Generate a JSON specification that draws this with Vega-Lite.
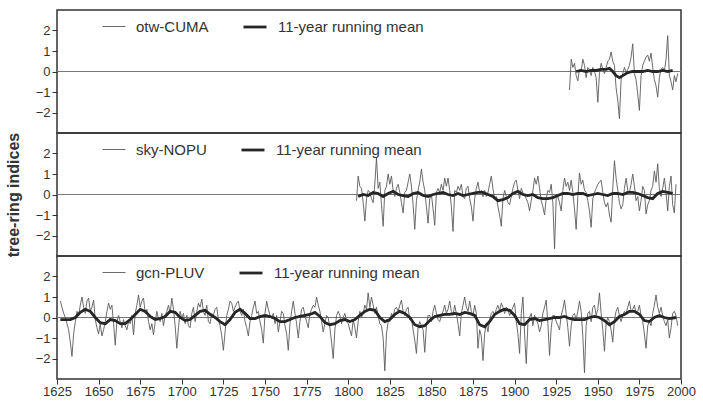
{
"$schema": "https://vega.github.io/schema/vega-lite/v6.json",
"background": "white",
"padding": {"left": 4, "top": 9, "right": 5, "bottom": 0},
"spacing": 0,
"bounds": "flush",
"config": {
  "font": "Liberation Sans",
  "concat": {"spacing": 0},
  "view": {"stroke": "#333", "strokeWidth": 1.5},
  "axis": {"labelFont": "Liberation Sans", "labelFontSize": 13, "labelColor": "#333", "tickColor": "#333", "tickSize": 5, "grid": false, "domain": false, "titleFont": "Liberation Sans", "titleFontSize": 16, "titleFontWeight": "bold", "titleColor": "#333"},
  "legend": {"orient": "none", "legendX": 45, "legendY": 4, "direction": "horizontal", "symbolType": "stroke", "symbolSize": 529, "labelFont": "Liberation Sans", "labelFontSize": 15, "labelColor": "#333", "labelOffset": 10, "columnPadding": 28, "padding": 0}
},
"resolve": {"scale": {"color": "independent", "strokeWidth": "independent"}, "legend": {"color": "independent", "strokeWidth": "independent"}},
"datasets": {
"p1": [
{"s":"r","x":1933,"y":-0.9},{"s":"r","x":1934,"y":0.6},{"s":"r","x":1935,"y":0.2},{"s":"r","x":1936,"y":0.4},{"s":"r","x":1937,"y":-0.2},{"s":"r","x":1938,"y":-0.45},{"s":"r","x":1939,"y":0.1},{"s":"r","x":1940,"y":0.0},{"s":"r","x":1941,"y":0.6},{"s":"r","x":1942,"y":0.3},{"s":"r","x":1943,"y":-0.3},{"s":"r","x":1944,"y":0.2},{"s":"r","x":1945,"y":0.1},{"s":"r","x":1946,"y":-0.2},{"s":"r","x":1947,"y":0.2},{"s":"r","x":1948,"y":0.0},{"s":"r","x":1949,"y":-0.3},{"s":"r","x":1950,"y":-1.5},{"s":"r","x":1951,"y":-0.1},{"s":"r","x":1952,"y":0.4},{"s":"r","x":1953,"y":0.1},{"s":"r","x":1954,"y":-0.1},{"s":"r","x":1955,"y":0.2},{"s":"r","x":1956,"y":0.5},{"s":"r","x":1957,"y":0.6},{"s":"r","x":1958,"y":0.95},{"s":"r","x":1959,"y":0.5},{"s":"r","x":1960,"y":0.3},{"s":"r","x":1961,"y":-0.8},{"s":"r","x":1962,"y":-1.4},{"s":"r","x":1963,"y":-2.3},{"s":"r","x":1964,"y":-0.4},{"s":"r","x":1965,"y":-0.1},{"s":"r","x":1966,"y":0.2},{"s":"r","x":1967,"y":-0.05},{"s":"r","x":1968,"y":0.1},{"s":"r","x":1969,"y":0.3},{"s":"r","x":1970,"y":0.7},{"s":"r","x":1971,"y":1.35},{"s":"r","x":1972,"y":-0.1},{"s":"r","x":1973,"y":-0.4},{"s":"r","x":1974,"y":-1.1},{"s":"r","x":1975,"y":-1.9},{"s":"r","x":1976,"y":-0.2},{"s":"r","x":1977,"y":0.3},{"s":"r","x":1978,"y":0.5},{"s":"r","x":1979,"y":0.7},{"s":"r","x":1980,"y":0.8},{"s":"r","x":1981,"y":0.5},{"s":"r","x":1982,"y":0.9},{"s":"r","x":1983,"y":0.2},{"s":"r","x":1984,"y":-0.4},{"s":"r","x":1985,"y":-0.7},{"s":"r","x":1986,"y":-1.25},{"s":"r","x":1987,"y":-0.3},{"s":"r","x":1988,"y":0.1},{"s":"r","x":1989,"y":0.2},{"s":"r","x":1990,"y":0.0},{"s":"r","x":1991,"y":0.6},{"s":"r","x":1992,"y":1.75},{"s":"r","x":1993,"y":-0.2},{"s":"r","x":1994,"y":-0.5},{"s":"r","x":1995,"y":-0.9},{"s":"r","x":1996,"y":-0.2},{"s":"r","x":1997,"y":-0.5},{"s":"r","x":1998,"y":-0.1},
{"s":"m","x":1937,"y":0.0},{"s":"m","x":1940,"y":0.05},{"s":"m","x":1943,"y":0.0},{"s":"m","x":1946,"y":0.05},{"s":"m","x":1949,"y":0.05},{"s":"m","x":1952,"y":0.1},{"s":"m","x":1955,"y":0.1},{"s":"m","x":1957,"y":0.15},{"s":"m","x":1959,"y":0.0},{"s":"m","x":1961,"y":-0.2},{"s":"m","x":1963,"y":-0.3},{"s":"m","x":1965,"y":-0.2},{"s":"m","x":1968,"y":-0.05},{"s":"m","x":1971,"y":0.0},{"s":"m","x":1974,"y":0.0},{"s":"m","x":1977,"y":0.0},{"s":"m","x":1980,"y":0.05},{"s":"m","x":1983,"y":0.0},{"s":"m","x":1986,"y":0.0},{"s":"m","x":1989,"y":0.05},{"s":"m","x":1992,"y":0.0},{"s":"m","x":1995,"y":0.05}
],
"p2": [
{"s":"r","x":1805,"y":-0.3},{"s":"r","x":1806,"y":0.9},{"s":"r","x":1807,"y":0.4},{"s":"r","x":1808,"y":0.3},{"s":"r","x":1809,"y":-0.4},{"s":"r","x":1810,"y":-1.3},{"s":"r","x":1811,"y":-0.2},{"s":"r","x":1812,"y":0.2},{"s":"r","x":1813,"y":0.1},{"s":"r","x":1814,"y":-0.2},{"s":"r","x":1815,"y":-0.4},{"s":"r","x":1816,"y":0.5},{"s":"r","x":1817,"y":1.8},{"s":"r","x":1818,"y":0.3},{"s":"r","x":1819,"y":0.6},{"s":"r","x":1820,"y":-0.5},{"s":"r","x":1821,"y":-1.55},{"s":"r","x":1822,"y":0.2},{"s":"r","x":1823,"y":0.4},{"s":"r","x":1824,"y":1.0},{"s":"r","x":1825,"y":0.5},{"s":"r","x":1826,"y":0.9},{"s":"r","x":1827,"y":0.2},{"s":"r","x":1828,"y":-0.1},{"s":"r","x":1829,"y":0.3},{"s":"r","x":1830,"y":0.5},{"s":"r","x":1831,"y":0.1},{"s":"r","x":1832,"y":-0.4},{"s":"r","x":1833,"y":-0.9},{"s":"r","x":1834,"y":0.1},{"s":"r","x":1835,"y":0.2},{"s":"r","x":1836,"y":0.6},{"s":"r","x":1837,"y":1.0},{"s":"r","x":1838,"y":0.4},{"s":"r","x":1839,"y":-0.5},{"s":"r","x":1840,"y":-1.7},{"s":"r","x":1841,"y":-0.3},{"s":"r","x":1842,"y":0.2},{"s":"r","x":1843,"y":0.6},{"s":"r","x":1844,"y":1.25},{"s":"r","x":1845,"y":0.6},{"s":"r","x":1846,"y":0.2},{"s":"r","x":1847,"y":-0.6},{"s":"r","x":1848,"y":-1.4},{"s":"r","x":1849,"y":-0.2},{"s":"r","x":1850,"y":0.0},{"s":"r","x":1851,"y":-0.7},{"s":"r","x":1852,"y":-1.5},{"s":"r","x":1853,"y":0.1},{"s":"r","x":1854,"y":0.3},{"s":"r","x":1855,"y":0.1},{"s":"r","x":1856,"y":0.5},{"s":"r","x":1857,"y":0.2},{"s":"r","x":1858,"y":0.8},{"s":"r","x":1859,"y":0.4},{"s":"r","x":1860,"y":0.8},{"s":"r","x":1861,"y":0.2},{"s":"r","x":1862,"y":-0.6},{"s":"r","x":1863,"y":-1.8},{"s":"r","x":1864,"y":0.2},{"s":"r","x":1865,"y":0.1},{"s":"r","x":1866,"y":0.4},{"s":"r","x":1867,"y":0.2},{"s":"r","x":1868,"y":0.5},{"s":"r","x":1869,"y":-0.1},{"s":"r","x":1870,"y":-0.2},{"s":"r","x":1871,"y":0.3},{"s":"r","x":1872,"y":0.4},{"s":"r","x":1873,"y":-0.2},{"s":"r","x":1874,"y":-0.6},{"s":"r","x":1875,"y":-1.3},{"s":"r","x":1876,"y":-0.2},{"s":"r","x":1877,"y":0.3},{"s":"r","x":1878,"y":0.6},{"s":"r","x":1879,"y":0.1},{"s":"r","x":1880,"y":0.2},{"s":"r","x":1881,"y":-0.1},{"s":"r","x":1882,"y":0.2},{"s":"r","x":1883,"y":-0.1},{"s":"r","x":1884,"y":0.1},{"s":"r","x":1885,"y":0.5},{"s":"r","x":1886,"y":0.9},{"s":"r","x":1887,"y":0.3},{"s":"r","x":1888,"y":-0.2},{"s":"r","x":1889,"y":-0.1},{"s":"r","x":1890,"y":-0.6},{"s":"r","x":1891,"y":-1.0},{"s":"r","x":1892,"y":-1.55},{"s":"r","x":1893,"y":-0.2},{"s":"r","x":1894,"y":0.2},{"s":"r","x":1895,"y":-0.1},{"s":"r","x":1896,"y":-0.4},{"s":"r","x":1897,"y":-0.5},{"s":"r","x":1898,"y":-0.1},{"s":"r","x":1899,"y":0.3},{"s":"r","x":1900,"y":0.6},{"s":"r","x":1901,"y":0.7},{"s":"r","x":1902,"y":0.2},{"s":"r","x":1903,"y":-0.2},{"s":"r","x":1904,"y":0.3},{"s":"r","x":1905,"y":0.1},{"s":"r","x":1906,"y":0.0},{"s":"r","x":1907,"y":-0.2},{"s":"r","x":1908,"y":-0.4},{"s":"r","x":1909,"y":-0.8},{"s":"r","x":1910,"y":-0.3},{"s":"r","x":1911,"y":0.2},{"s":"r","x":1912,"y":0.8},{"s":"r","x":1913,"y":0.5},{"s":"r","x":1914,"y":0.9},{"s":"r","x":1915,"y":0.3},{"s":"r","x":1916,"y":-0.3},{"s":"r","x":1917,"y":-0.6},{"s":"r","x":1918,"y":-1.0},{"s":"r","x":1919,"y":-0.2},{"s":"r","x":1920,"y":0.2},{"s":"r","x":1921,"y":0.1},{"s":"r","x":1922,"y":0.5},{"s":"r","x":1923,"y":-0.4},{"s":"r","x":1924,"y":-2.65},{"s":"r","x":1925,"y":-0.2},{"s":"r","x":1926,"y":-0.1},{"s":"r","x":1927,"y":-0.4},{"s":"r","x":1928,"y":-0.8},{"s":"r","x":1929,"y":0.2},{"s":"r","x":1930,"y":0.8},{"s":"r","x":1931,"y":0.4},{"s":"r","x":1932,"y":0.6},{"s":"r","x":1933,"y":0.2},{"s":"r","x":1934,"y":0.7},{"s":"r","x":1935,"y":0.1},{"s":"r","x":1936,"y":-0.7},{"s":"r","x":1937,"y":-1.7},{"s":"r","x":1938,"y":-0.1},{"s":"r","x":1939,"y":1.05},{"s":"r","x":1940,"y":0.5},{"s":"r","x":1941,"y":0.7},{"s":"r","x":1942,"y":0.2},{"s":"r","x":1943,"y":0.1},{"s":"r","x":1944,"y":-0.3},{"s":"r","x":1945,"y":-0.8},{"s":"r","x":1946,"y":-1.6},{"s":"r","x":1947,"y":-0.2},{"s":"r","x":1948,"y":0.1},{"s":"r","x":1949,"y":0.3},{"s":"r","x":1950,"y":0.5},{"s":"r","x":1951,"y":0.6},{"s":"r","x":1952,"y":0.7},{"s":"r","x":1953,"y":0.1},{"s":"r","x":1954,"y":-0.4},{"s":"r","x":1955,"y":-0.6},{"s":"r","x":1956,"y":-0.4},{"s":"r","x":1957,"y":-1.0},{"s":"r","x":1958,"y":-1.35},{"s":"r","x":1959,"y":0.3},{"s":"r","x":1960,"y":1.65},{"s":"r","x":1961,"y":0.8},{"s":"r","x":1962,"y":0.2},{"s":"r","x":1963,"y":-0.4},{"s":"r","x":1964,"y":-0.7},{"s":"r","x":1965,"y":-0.5},{"s":"r","x":1966,"y":0.3},{"s":"r","x":1967,"y":0.8},{"s":"r","x":1968,"y":0.2},{"s":"r","x":1969,"y":0.1},{"s":"r","x":1970,"y":0.5},{"s":"r","x":1971,"y":1.0},{"s":"r","x":1972,"y":0.4},{"s":"r","x":1973,"y":-0.3},{"s":"r","x":1974,"y":-0.1},{"s":"r","x":1975,"y":-0.8},{"s":"r","x":1976,"y":-0.3},{"s":"r","x":1977,"y":0.4},{"s":"r","x":1978,"y":0.2},{"s":"r","x":1979,"y":-0.95},{"s":"r","x":1980,"y":-0.5},{"s":"r","x":1981,"y":-0.3},{"s":"r","x":1982,"y":0.2},{"s":"r","x":1983,"y":0.4},{"s":"r","x":1984,"y":1.15},{"s":"r","x":1985,"y":0.6},{"s":"r","x":1986,"y":1.5},{"s":"r","x":1987,"y":0.3},{"s":"r","x":1988,"y":-0.1},{"s":"r","x":1989,"y":0.3},{"s":"r","x":1990,"y":0.8},{"s":"r","x":1991,"y":0.1},{"s":"r","x":1992,"y":-0.8},{"s":"r","x":1993,"y":0.4},{"s":"r","x":1994,"y":0.9},{"s":"r","x":1995,"y":-0.5},{"s":"r","x":1996,"y":-0.9},{"s":"r","x":1997,"y":0.5},
{"s":"m","x":1806,"y":-0.1},{"s":"m","x":1809,"y":0.0},{"s":"m","x":1812,"y":-0.05},{"s":"m","x":1815,"y":0.1},{"s":"m","x":1818,"y":0.05},{"s":"m","x":1821,"y":-0.1},{"s":"m","x":1824,"y":0.05},{"s":"m","x":1827,"y":0.15},{"s":"m","x":1830,"y":0.0},{"s":"m","x":1833,"y":-0.05},{"s":"m","x":1836,"y":-0.1},{"s":"m","x":1839,"y":0.05},{"s":"m","x":1842,"y":0.1},{"s":"m","x":1845,"y":-0.05},{"s":"m","x":1848,"y":-0.1},{"s":"m","x":1851,"y":0.0},{"s":"m","x":1854,"y":0.05},{"s":"m","x":1857,"y":0.1},{"s":"m","x":1860,"y":0.0},{"s":"m","x":1863,"y":-0.05},{"s":"m","x":1866,"y":0.05},{"s":"m","x":1869,"y":-0.05},{"s":"m","x":1872,"y":0.0},{"s":"m","x":1875,"y":0.05},{"s":"m","x":1878,"y":0.1},{"s":"m","x":1881,"y":0.1},{"s":"m","x":1884,"y":0.0},{"s":"m","x":1887,"y":-0.1},{"s":"m","x":1890,"y":-0.3},{"s":"m","x":1893,"y":-0.25},{"s":"m","x":1896,"y":-0.15},{"s":"m","x":1899,"y":0.05},{"s":"m","x":1902,"y":0.15},{"s":"m","x":1905,"y":0.0},{"s":"m","x":1908,"y":-0.05},{"s":"m","x":1911,"y":0.0},{"s":"m","x":1914,"y":-0.15},{"s":"m","x":1917,"y":-0.2},{"s":"m","x":1920,"y":-0.2},{"s":"m","x":1923,"y":-0.15},{"s":"m","x":1926,"y":-0.05},{"s":"m","x":1929,"y":0.05},{"s":"m","x":1932,"y":0.05},{"s":"m","x":1935,"y":0.0},{"s":"m","x":1938,"y":0.05},{"s":"m","x":1941,"y":0.05},{"s":"m","x":1944,"y":-0.05},{"s":"m","x":1947,"y":0.0},{"s":"m","x":1950,"y":0.05},{"s":"m","x":1953,"y":0.0},{"s":"m","x":1956,"y":-0.05},{"s":"m","x":1959,"y":0.05},{"s":"m","x":1962,"y":0.05},{"s":"m","x":1965,"y":0.0},{"s":"m","x":1968,"y":0.1},{"s":"m","x":1971,"y":0.1},{"s":"m","x":1974,"y":0.05},{"s":"m","x":1977,"y":-0.05},{"s":"m","x":1980,"y":-0.15},{"s":"m","x":1983,"y":-0.2},{"s":"m","x":1986,"y":0.05},{"s":"m","x":1989,"y":0.15},{"s":"m","x":1992,"y":0.1},{"s":"m","x":1995,"y":0.05}
],
"p3": [
{"s":"r","x":1627,"y":0.8},{"s":"r","x":1628,"y":0.5},{"s":"r","x":1629,"y":0.2},{"s":"r","x":1630,"y":0.0},{"s":"r","x":1631,"y":-0.3},{"s":"r","x":1632,"y":-0.6},{"s":"r","x":1633,"y":-1.2},{"s":"r","x":1634,"y":-1.9},{"s":"r","x":1635,"y":-0.8},{"s":"r","x":1636,"y":-0.2},{"s":"r","x":1637,"y":0.3},{"s":"r","x":1638,"y":0.1},{"s":"r","x":1639,"y":0.6},{"s":"r","x":1640,"y":1.0},{"s":"r","x":1641,"y":0.5},{"s":"r","x":1642,"y":0.2},{"s":"r","x":1643,"y":0.8},{"s":"r","x":1644,"y":0.95},{"s":"r","x":1645,"y":0.3},{"s":"r","x":1646,"y":0.5},{"s":"r","x":1647,"y":0.85},{"s":"r","x":1648,"y":-0.1},{"s":"r","x":1649,"y":-0.5},{"s":"r","x":1650,"y":-0.8},{"s":"r","x":1651,"y":-0.3},{"s":"r","x":1652,"y":-0.9},{"s":"r","x":1653,"y":-0.6},{"s":"r","x":1654,"y":-0.2},{"s":"r","x":1655,"y":0.3},{"s":"r","x":1656,"y":0.7},{"s":"r","x":1657,"y":0.4},{"s":"r","x":1658,"y":0.6},{"s":"r","x":1659,"y":-0.3},{"s":"r","x":1660,"y":-1.35},{"s":"r","x":1661,"y":-0.2},{"s":"r","x":1662,"y":0.1},{"s":"r","x":1663,"y":-0.2},{"s":"r","x":1664,"y":-0.5},{"s":"r","x":1665,"y":-0.1},{"s":"r","x":1666,"y":-0.4},{"s":"r","x":1667,"y":-0.6},{"s":"r","x":1668,"y":-0.2},{"s":"r","x":1669,"y":-0.3},{"s":"r","x":1670,"y":0.1},{"s":"r","x":1671,"y":-0.85},{"s":"r","x":1672,"y":0.2},{"s":"r","x":1673,"y":0.6},{"s":"r","x":1674,"y":1.1},{"s":"r","x":1675,"y":0.5},{"s":"r","x":1676,"y":0.8},{"s":"r","x":1677,"y":0.95},{"s":"r","x":1678,"y":0.2},{"s":"r","x":1679,"y":0.4},{"s":"r","x":1680,"y":-0.2},{"s":"r","x":1681,"y":-0.6},{"s":"r","x":1682,"y":-0.3},{"s":"r","x":1683,"y":-0.85},{"s":"r","x":1684,"y":-0.2},{"s":"r","x":1685,"y":0.3},{"s":"r","x":1686,"y":-0.1},{"s":"r","x":1687,"y":-0.2},{"s":"r","x":1688,"y":0.2},{"s":"r","x":1689,"y":-0.4},{"s":"r","x":1690,"y":0.1},{"s":"r","x":1691,"y":0.3},{"s":"r","x":1692,"y":0.6},{"s":"r","x":1693,"y":0.2},{"s":"r","x":1694,"y":0.95},{"s":"r","x":1695,"y":0.4},{"s":"r","x":1696,"y":-0.4},{"s":"r","x":1697,"y":-1.5},{"s":"r","x":1698,"y":-0.5},{"s":"r","x":1699,"y":0.3},{"s":"r","x":1700,"y":-0.05},{"s":"r","x":1701,"y":0.2},{"s":"r","x":1702,"y":-0.3},{"s":"r","x":1703,"y":0.1},{"s":"r","x":1704,"y":-0.4},{"s":"r","x":1705,"y":-0.5},{"s":"r","x":1706,"y":0.2},{"s":"r","x":1707,"y":0.5},{"s":"r","x":1708,"y":-0.2},{"s":"r","x":1709,"y":0.3},{"s":"r","x":1710,"y":0.7},{"s":"r","x":1711,"y":0.5},{"s":"r","x":1712,"y":0.9},{"s":"r","x":1713,"y":0.3},{"s":"r","x":1714,"y":0.1},{"s":"r","x":1715,"y":0.6},{"s":"r","x":1716,"y":-0.2},{"s":"r","x":1717,"y":-0.3},{"s":"r","x":1718,"y":0.2},{"s":"r","x":1719,"y":0.1},{"s":"r","x":1720,"y":0.4},{"s":"r","x":1721,"y":0.5},{"s":"r","x":1722,"y":-0.1},{"s":"r","x":1723,"y":-0.4},{"s":"r","x":1724,"y":-0.9},{"s":"r","x":1725,"y":-1.6},{"s":"r","x":1726,"y":-0.7},{"s":"r","x":1727,"y":0.1},{"s":"r","x":1728,"y":0.4},{"s":"r","x":1729,"y":0.8},{"s":"r","x":1730,"y":0.7},{"s":"r","x":1731,"y":0.3},{"s":"r","x":1732,"y":0.5},{"s":"r","x":1733,"y":0.7},{"s":"r","x":1734,"y":0.8},{"s":"r","x":1735,"y":0.3},{"s":"r","x":1736,"y":0.1},{"s":"r","x":1737,"y":0.4},{"s":"r","x":1738,"y":-0.2},{"s":"r","x":1739,"y":-0.5},{"s":"r","x":1740,"y":-0.9},{"s":"r","x":1741,"y":-0.2},{"s":"r","x":1742,"y":0.1},{"s":"r","x":1743,"y":0.5},{"s":"r","x":1744,"y":0.8},{"s":"r","x":1745,"y":0.2},{"s":"r","x":1746,"y":0.3},{"s":"r","x":1747,"y":-0.2},{"s":"r","x":1748,"y":-0.6},{"s":"r","x":1749,"y":-1.25},{"s":"r","x":1750,"y":0.2},{"s":"r","x":1751,"y":0.8},{"s":"r","x":1752,"y":0.4},{"s":"r","x":1753,"y":0.1},{"s":"r","x":1754,"y":0.0},{"s":"r","x":1755,"y":0.2},{"s":"r","x":1756,"y":-0.3},{"s":"r","x":1757,"y":0.1},{"s":"r","x":1758,"y":-0.7},{"s":"r","x":1759,"y":-0.2},{"s":"r","x":1760,"y":0.3},{"s":"r","x":1761,"y":0.2},{"s":"r","x":1762,"y":-0.4},{"s":"r","x":1763,"y":-0.8},{"s":"r","x":1764,"y":-1.6},{"s":"r","x":1765,"y":-0.3},{"s":"r","x":1766,"y":0.3},{"s":"r","x":1767,"y":0.8},{"s":"r","x":1768,"y":0.2},{"s":"r","x":1769,"y":-0.3},{"s":"r","x":1770,"y":-1.0},{"s":"r","x":1771,"y":-0.2},{"s":"r","x":1772,"y":0.4},{"s":"r","x":1773,"y":0.5},{"s":"r","x":1774,"y":0.1},{"s":"r","x":1775,"y":-0.2},{"s":"r","x":1776,"y":-0.5},{"s":"r","x":1777,"y":0.2},{"s":"r","x":1778,"y":0.4},{"s":"r","x":1779,"y":0.6},{"s":"r","x":1780,"y":0.5},{"s":"r","x":1781,"y":1.0},{"s":"r","x":1782,"y":0.6},{"s":"r","x":1783,"y":0.3},{"s":"r","x":1784,"y":-0.2},{"s":"r","x":1785,"y":-0.7},{"s":"r","x":1786,"y":-0.3},{"s":"r","x":1787,"y":0.1},{"s":"r","x":1788,"y":0.0},{"s":"r","x":1789,"y":-0.5},{"s":"r","x":1790,"y":-1.2},{"s":"r","x":1791,"y":-2.0},{"s":"r","x":1792,"y":-0.6},{"s":"r","x":1793,"y":0.1},{"s":"r","x":1794,"y":0.3},{"s":"r","x":1795,"y":0.1},{"s":"r","x":1796,"y":-0.3},{"s":"r","x":1797,"y":0.0},{"s":"r","x":1798,"y":0.2},{"s":"r","x":1799,"y":-0.2},{"s":"r","x":1800,"y":-0.3},{"s":"r","x":1801,"y":-0.6},{"s":"r","x":1802,"y":-0.9},{"s":"r","x":1803,"y":-0.1},{"s":"r","x":1804,"y":-0.5},{"s":"r","x":1805,"y":-1.0},{"s":"r","x":1806,"y":-0.2},{"s":"r","x":1807,"y":0.3},{"s":"r","x":1808,"y":0.0},{"s":"r","x":1809,"y":0.2},{"s":"r","x":1810,"y":0.6},{"s":"r","x":1811,"y":0.4},{"s":"r","x":1812,"y":1.2},{"s":"r","x":1813,"y":0.5},{"s":"r","x":1814,"y":1.0},{"s":"r","x":1815,"y":0.6},{"s":"r","x":1816,"y":0.2},{"s":"r","x":1817,"y":0.5},{"s":"r","x":1818,"y":0.1},{"s":"r","x":1819,"y":-0.3},{"s":"r","x":1820,"y":-0.4},{"s":"r","x":1821,"y":-1.0},{"s":"r","x":1822,"y":-2.6},{"s":"r","x":1823,"y":-0.8},{"s":"r","x":1824,"y":-0.2},{"s":"r","x":1825,"y":-0.2},{"s":"r","x":1826,"y":0.2},{"s":"r","x":1827,"y":0.0},{"s":"r","x":1828,"y":0.4},{"s":"r","x":1829,"y":0.5},{"s":"r","x":1830,"y":0.3},{"s":"r","x":1831,"y":0.6},{"s":"r","x":1832,"y":0.85},{"s":"r","x":1833,"y":0.3},{"s":"r","x":1834,"y":0.1},{"s":"r","x":1835,"y":0.4},{"s":"r","x":1836,"y":0.5},{"s":"r","x":1837,"y":-0.1},{"s":"r","x":1838,"y":0.0},{"s":"r","x":1839,"y":-0.6},{"s":"r","x":1840,"y":-1.1},{"s":"r","x":1841,"y":-1.75},{"s":"r","x":1842,"y":-0.5},{"s":"r","x":1843,"y":-0.2},{"s":"r","x":1844,"y":-0.4},{"s":"r","x":1845,"y":-0.6},{"s":"r","x":1846,"y":-1.7},{"s":"r","x":1847,"y":-0.4},{"s":"r","x":1848,"y":0.1},{"s":"r","x":1849,"y":0.1},{"s":"r","x":1850,"y":-0.2},{"s":"r","x":1851,"y":0.3},{"s":"r","x":1852,"y":0.6},{"s":"r","x":1853,"y":0.2},{"s":"r","x":1854,"y":-0.1},{"s":"r","x":1855,"y":-0.2},{"s":"r","x":1856,"y":0.1},{"s":"r","x":1857,"y":0.3},{"s":"r","x":1858,"y":0.6},{"s":"r","x":1859,"y":0.2},{"s":"r","x":1860,"y":0.4},{"s":"r","x":1861,"y":0.8},{"s":"r","x":1862,"y":0.3},{"s":"r","x":1863,"y":0.1},{"s":"r","x":1864,"y":0.6},{"s":"r","x":1865,"y":0.2},{"s":"r","x":1866,"y":-0.3},{"s":"r","x":1867,"y":-0.9},{"s":"r","x":1868,"y":0.2},{"s":"r","x":1869,"y":0.6},{"s":"r","x":1870,"y":1.0},{"s":"r","x":1871,"y":0.5},{"s":"r","x":1872,"y":0.3},{"s":"r","x":1873,"y":0.8},{"s":"r","x":1874,"y":0.3},{"s":"r","x":1875,"y":0.1},{"s":"r","x":1876,"y":0.6},{"s":"r","x":1877,"y":0.2},{"s":"r","x":1878,"y":-1.5},{"s":"r","x":1879,"y":-0.6},{"s":"r","x":1880,"y":-0.9},{"s":"r","x":1881,"y":-2.1},{"s":"r","x":1882,"y":-0.8},{"s":"r","x":1883,"y":-0.3},{"s":"r","x":1884,"y":-0.7},{"s":"r","x":1885,"y":-0.1},{"s":"r","x":1886,"y":0.2},{"s":"r","x":1887,"y":0.3},{"s":"r","x":1888,"y":0.1},{"s":"r","x":1889,"y":0.4},{"s":"r","x":1890,"y":0.6},{"s":"r","x":1891,"y":0.3},{"s":"r","x":1892,"y":0.7},{"s":"r","x":1893,"y":0.5},{"s":"r","x":1894,"y":0.2},{"s":"r","x":1895,"y":0.5},{"s":"r","x":1896,"y":0.4},{"s":"r","x":1897,"y":0.1},{"s":"r","x":1898,"y":0.3},{"s":"r","x":1899,"y":0.5},{"s":"r","x":1900,"y":0.7},{"s":"r","x":1901,"y":-0.2},{"s":"r","x":1902,"y":-0.8},{"s":"r","x":1903,"y":-1.75},{"s":"r","x":1904,"y":0.2},{"s":"r","x":1905,"y":1.0},{"s":"r","x":1906,"y":-0.8},{"s":"r","x":1907,"y":-2.25},{"s":"r","x":1908,"y":-0.3},{"s":"r","x":1909,"y":0.0},{"s":"r","x":1910,"y":0.2},{"s":"r","x":1911,"y":-0.4},{"s":"r","x":1912,"y":0.1},{"s":"r","x":1913,"y":-0.1},{"s":"r","x":1914,"y":-0.3},{"s":"r","x":1915,"y":-0.7},{"s":"r","x":1916,"y":-0.4},{"s":"r","x":1917,"y":0.2},{"s":"r","x":1918,"y":0.5},{"s":"r","x":1919,"y":0.85},{"s":"r","x":1920,"y":-0.3},{"s":"r","x":1921,"y":-1.85},{"s":"r","x":1922,"y":-0.5},{"s":"r","x":1923,"y":0.1},{"s":"r","x":1924,"y":0.1},{"s":"r","x":1925,"y":-0.2},{"s":"r","x":1926,"y":-0.4},{"s":"r","x":1927,"y":-0.6},{"s":"r","x":1928,"y":0.1},{"s":"r","x":1929,"y":0.4},{"s":"r","x":1930,"y":0.85},{"s":"r","x":1931,"y":0.2},{"s":"r","x":1932,"y":-0.5},{"s":"r","x":1933,"y":-1.4},{"s":"r","x":1934,"y":-0.4},{"s":"r","x":1935,"y":0.1},{"s":"r","x":1936,"y":0.2},{"s":"r","x":1937,"y":-0.1},{"s":"r","x":1938,"y":0.3},{"s":"r","x":1939,"y":0.8},{"s":"r","x":1940,"y":0.3},{"s":"r","x":1941,"y":-0.9},{"s":"r","x":1942,"y":-2.7},{"s":"r","x":1943,"y":-0.4},{"s":"r","x":1944,"y":0.2},{"s":"r","x":1945,"y":0.3},{"s":"r","x":1946,"y":-0.2},{"s":"r","x":1947,"y":0.5},{"s":"r","x":1948,"y":0.6},{"s":"r","x":1949,"y":0.1},{"s":"r","x":1950,"y":0.4},{"s":"r","x":1951,"y":1.2},{"s":"r","x":1952,"y":0.2},{"s":"r","x":1953,"y":-0.6},{"s":"r","x":1954,"y":-1.65},{"s":"r","x":1955,"y":-0.3},{"s":"r","x":1956,"y":0.0},{"s":"r","x":1957,"y":-0.2},{"s":"r","x":1958,"y":-0.6},{"s":"r","x":1959,"y":-1.2},{"s":"r","x":1960,"y":-0.1},{"s":"r","x":1961,"y":0.3},{"s":"r","x":1962,"y":0.5},{"s":"r","x":1963,"y":0.1},{"s":"r","x":1964,"y":-0.2},{"s":"r","x":1965,"y":0.1},{"s":"r","x":1966,"y":0.3},{"s":"r","x":1967,"y":0.2},{"s":"r","x":1968,"y":0.5},{"s":"r","x":1969,"y":0.8},{"s":"r","x":1970,"y":0.3},{"s":"r","x":1971,"y":0.4},{"s":"r","x":1972,"y":0.6},{"s":"r","x":1973,"y":0.2},{"s":"r","x":1974,"y":0.3},{"s":"r","x":1975,"y":0.6},{"s":"r","x":1976,"y":0.1},{"s":"r","x":1977,"y":-0.2},{"s":"r","x":1978,"y":-0.8},{"s":"r","x":1979,"y":-1.5},{"s":"r","x":1980,"y":-0.4},{"s":"r","x":1981,"y":-0.2},{"s":"r","x":1982,"y":-0.4},{"s":"r","x":1983,"y":0.2},{"s":"r","x":1984,"y":0.6},{"s":"r","x":1985,"y":1.1},{"s":"r","x":1986,"y":0.5},{"s":"r","x":1987,"y":0.2},{"s":"r","x":1988,"y":0.5},{"s":"r","x":1989,"y":0.1},{"s":"r","x":1990,"y":-0.2},{"s":"r","x":1991,"y":-0.4},{"s":"r","x":1992,"y":-0.1},{"s":"r","x":1993,"y":-1.0},{"s":"r","x":1994,"y":-0.5},{"s":"r","x":1995,"y":0.2},{"s":"r","x":1996,"y":0.3},{"s":"r","x":1997,"y":0.1},{"s":"r","x":1998,"y":-0.4},
{"s":"m","x":1627,"y":-0.1},{"s":"m","x":1630,"y":-0.1},{"s":"m","x":1633,"y":-0.1},{"s":"m","x":1636,"y":0.0},{"s":"m","x":1639,"y":0.25},{"s":"m","x":1642,"y":0.4},{"s":"m","x":1645,"y":0.3},{"s":"m","x":1648,"y":0.0},{"s":"m","x":1651,"y":-0.25},{"s":"m","x":1654,"y":-0.3},{"s":"m","x":1657,"y":-0.1},{"s":"m","x":1660,"y":-0.15},{"s":"m","x":1663,"y":-0.3},{"s":"m","x":1666,"y":-0.3},{"s":"m","x":1669,"y":-0.1},{"s":"m","x":1672,"y":0.15},{"s":"m","x":1675,"y":0.4},{"s":"m","x":1678,"y":0.3},{"s":"m","x":1681,"y":0.05},{"s":"m","x":1684,"y":-0.1},{"s":"m","x":1687,"y":-0.05},{"s":"m","x":1690,"y":0.05},{"s":"m","x":1693,"y":0.3},{"s":"m","x":1696,"y":0.25},{"s":"m","x":1699,"y":0.0},{"s":"m","x":1702,"y":-0.15},{"s":"m","x":1705,"y":-0.1},{"s":"m","x":1708,"y":0.1},{"s":"m","x":1711,"y":0.3},{"s":"m","x":1714,"y":0.35},{"s":"m","x":1717,"y":0.15},{"s":"m","x":1720,"y":0.0},{"s":"m","x":1723,"y":-0.2},{"s":"m","x":1726,"y":-0.35},{"s":"m","x":1729,"y":-0.1},{"s":"m","x":1732,"y":0.25},{"s":"m","x":1735,"y":0.4},{"s":"m","x":1738,"y":0.2},{"s":"m","x":1741,"y":-0.05},{"s":"m","x":1744,"y":-0.05},{"s":"m","x":1747,"y":0.05},{"s":"m","x":1750,"y":0.1},{"s":"m","x":1753,"y":0.05},{"s":"m","x":1756,"y":-0.05},{"s":"m","x":1759,"y":-0.2},{"s":"m","x":1762,"y":-0.2},{"s":"m","x":1765,"y":-0.1},{"s":"m","x":1768,"y":0.0},{"s":"m","x":1771,"y":0.05},{"s":"m","x":1774,"y":0.1},{"s":"m","x":1777,"y":0.15},{"s":"m","x":1780,"y":0.25},{"s":"m","x":1783,"y":0.05},{"s":"m","x":1786,"y":-0.25},{"s":"m","x":1789,"y":-0.35},{"s":"m","x":1792,"y":-0.3},{"s":"m","x":1795,"y":-0.15},{"s":"m","x":1798,"y":-0.1},{"s":"m","x":1801,"y":-0.2},{"s":"m","x":1804,"y":-0.1},{"s":"m","x":1807,"y":0.1},{"s":"m","x":1810,"y":0.3},{"s":"m","x":1813,"y":0.4},{"s":"m","x":1816,"y":0.35},{"s":"m","x":1819,"y":0.0},{"s":"m","x":1822,"y":-0.2},{"s":"m","x":1825,"y":-0.1},{"s":"m","x":1828,"y":0.15},{"s":"m","x":1831,"y":0.3},{"s":"m","x":1834,"y":0.2},{"s":"m","x":1837,"y":0.0},{"s":"m","x":1840,"y":-0.35},{"s":"m","x":1843,"y":-0.45},{"s":"m","x":1846,"y":-0.4},{"s":"m","x":1849,"y":-0.15},{"s":"m","x":1852,"y":0.05},{"s":"m","x":1855,"y":0.1},{"s":"m","x":1858,"y":0.15},{"s":"m","x":1861,"y":0.15},{"s":"m","x":1864,"y":0.2},{"s":"m","x":1867,"y":0.15},{"s":"m","x":1870,"y":0.25},{"s":"m","x":1873,"y":0.2},{"s":"m","x":1876,"y":0.1},{"s":"m","x":1879,"y":-0.35},{"s":"m","x":1882,"y":-0.45},{"s":"m","x":1885,"y":-0.2},{"s":"m","x":1888,"y":0.15},{"s":"m","x":1891,"y":0.3},{"s":"m","x":1894,"y":0.4},{"s":"m","x":1897,"y":0.35},{"s":"m","x":1900,"y":0.1},{"s":"m","x":1903,"y":-0.3},{"s":"m","x":1906,"y":-0.35},{"s":"m","x":1909,"y":-0.1},{"s":"m","x":1912,"y":-0.05},{"s":"m","x":1915,"y":-0.15},{"s":"m","x":1918,"y":-0.1},{"s":"m","x":1921,"y":-0.05},{"s":"m","x":1924,"y":0.0},{"s":"m","x":1927,"y":0.0},{"s":"m","x":1930,"y":0.05},{"s":"m","x":1933,"y":-0.05},{"s":"m","x":1936,"y":-0.1},{"s":"m","x":1939,"y":-0.1},{"s":"m","x":1942,"y":-0.1},{"s":"m","x":1945,"y":0.0},{"s":"m","x":1948,"y":0.05},{"s":"m","x":1951,"y":0.0},{"s":"m","x":1954,"y":-0.15},{"s":"m","x":1957,"y":-0.35},{"s":"m","x":1960,"y":-0.2},{"s":"m","x":1963,"y":0.05},{"s":"m","x":1966,"y":0.15},{"s":"m","x":1969,"y":0.3},{"s":"m","x":1972,"y":0.3},{"s":"m","x":1975,"y":0.15},{"s":"m","x":1978,"y":-0.15},{"s":"m","x":1981,"y":-0.2},{"s":"m","x":1984,"y":0.0},{"s":"m","x":1987,"y":0.1},{"s":"m","x":1990,"y":0.0},{"s":"m","x":1993,"y":-0.05},{"s":"m","x":1997,"y":0.0}
]
},
"vconcat": [
{
  "width": 624, "height": 123,
  "layer": [
    {"data": {"values": [{}]}, "mark": {"type": "rule", "color": "#777", "strokeWidth": 1},
     "encoding": {"y": {"datum": 0, "type": "quantitative", "scale": {"domain": [-3, 3], "nice": false}, "axis": {"values": [-2, -1, 0, 1, 2], "title": null, "labelPadding": 2}}}},
    {"data": {"name": "p1"}, "transform": [{"filter": "datum.s == 'r'"}], "mark": {"type": "line"},
     "encoding": {
       "x": {"field": "x", "type": "quantitative", "scale": {"domain": [1625, 2000], "nice": false, "zero": false}, "axis": null},
       "y": {"field": "y", "type": "quantitative", "scale": {"domain": [-3, 3], "nice": false}, "axis": {"values": [-2, -1, 0, 1, 2], "title": null, "labelPadding": 2}},
       "color": {"field": "s", "type": "nominal", "scale": {"domain": ["r", "m"], "range": ["#5a5a5a", "#262626"]}, "legend": {"title": null, "labelExpr": "datum.label == 'r' ? 'otw-CUMA' : '11-year running mean'"}},
       "strokeWidth": {"field": "s", "type": "nominal", "scale": {"domain": ["r", "m"], "range": [0.9, 2.8]}, "legend": {"title": null, "labelExpr": "datum.label == 'r' ? 'otw-CUMA' : '11-year running mean'"}}
     }},
    {"data": {"name": "p1"}, "transform": [{"filter": "datum.s == 'm'"}], "mark": {"type": "line"},
     "encoding": {
       "x": {"field": "x", "type": "quantitative", "scale": {"domain": [1625, 2000], "nice": false, "zero": false}, "axis": null},
       "y": {"field": "y", "type": "quantitative", "scale": {"domain": [-3, 3], "nice": false}, "axis": {"values": [-2, -1, 0, 1, 2], "title": null, "labelPadding": 2}},
       "color": {"field": "s", "type": "nominal", "scale": {"domain": ["r", "m"], "range": ["#5a5a5a", "#262626"]}, "legend": {"title": null, "labelExpr": "datum.label == 'r' ? 'otw-CUMA' : '11-year running mean'"}},
       "strokeWidth": {"field": "s", "type": "nominal", "scale": {"domain": ["r", "m"], "range": [0.9, 2.8]}, "legend": {"title": null, "labelExpr": "datum.label == 'r' ? 'otw-CUMA' : '11-year running mean'"}}
     }}
  ]
},
{
  "width": 624, "height": 123,
  "layer": [
    {"data": {"values": [{}]}, "mark": {"type": "rule", "color": "#777", "strokeWidth": 1},
     "encoding": {"y": {"datum": 0, "type": "quantitative", "scale": {"domain": [-3, 3], "nice": false}, "axis": {"values": [-2, -1, 0, 1, 2], "title": "tree-ring indices", "labelPadding": 2, "titlePadding": 14}}}},
    {"data": {"name": "p2"}, "transform": [{"filter": "datum.s == 'r'"}], "mark": {"type": "line"},
     "encoding": {
       "x": {"field": "x", "type": "quantitative", "scale": {"domain": [1625, 2000], "nice": false, "zero": false}, "axis": null},
       "y": {"field": "y", "type": "quantitative", "scale": {"domain": [-3, 3], "nice": false}, "axis": {"values": [-2, -1, 0, 1, 2], "title": "tree-ring indices", "labelPadding": 2, "titlePadding": 14}},
       "color": {"field": "s", "type": "nominal", "scale": {"domain": ["r", "m"], "range": ["#5a5a5a", "#262626"]}, "legend": {"title": null, "labelExpr": "datum.label == 'r' ? 'sky-NOPU' : '11-year running mean'"}},
       "strokeWidth": {"field": "s", "type": "nominal", "scale": {"domain": ["r", "m"], "range": [0.9, 2.8]}, "legend": {"title": null, "labelExpr": "datum.label == 'r' ? 'sky-NOPU' : '11-year running mean'"}}
     }},
    {"data": {"name": "p2"}, "transform": [{"filter": "datum.s == 'm'"}], "mark": {"type": "line"},
     "encoding": {
       "x": {"field": "x", "type": "quantitative", "scale": {"domain": [1625, 2000], "nice": false, "zero": false}, "axis": null},
       "y": {"field": "y", "type": "quantitative", "scale": {"domain": [-3, 3], "nice": false}, "axis": {"values": [-2, -1, 0, 1, 2], "title": "tree-ring indices", "labelPadding": 2, "titlePadding": 14}},
       "color": {"field": "s", "type": "nominal", "scale": {"domain": ["r", "m"], "range": ["#5a5a5a", "#262626"]}, "legend": {"title": null, "labelExpr": "datum.label == 'r' ? 'sky-NOPU' : '11-year running mean'"}},
       "strokeWidth": {"field": "s", "type": "nominal", "scale": {"domain": ["r", "m"], "range": [0.9, 2.8]}, "legend": {"title": null, "labelExpr": "datum.label == 'r' ? 'sky-NOPU' : '11-year running mean'"}}
     }}
  ]
},
{
  "width": 624, "height": 123,
  "layer": [
    {"data": {"values": [{}]}, "mark": {"type": "rule", "color": "#777", "strokeWidth": 1},
     "encoding": {"y": {"datum": 0, "type": "quantitative", "scale": {"domain": [-3, 3], "nice": false}, "axis": {"values": [-2, -1, 0, 1, 2], "title": null, "labelPadding": 2}}}},
    {"data": {"name": "p3"}, "transform": [{"filter": "datum.s == 'r'"}], "mark": {"type": "line"},
     "encoding": {
       "x": {"field": "x", "type": "quantitative", "scale": {"domain": [1625, 2000], "nice": false, "zero": false}, "axis": {"values": [1625, 1650, 1675, 1700, 1725, 1750, 1775, 1800, 1825, 1850, 1875, 1900, 1925, 1950, 1975, 2000], "format": "d", "title": null, "labelFlush": false, "labelPadding": 1, "labelOverlap": false}},
       "y": {"field": "y", "type": "quantitative", "scale": {"domain": [-3, 3], "nice": false}, "axis": {"values": [-2, -1, 0, 1, 2], "title": null, "labelPadding": 2}},
       "color": {"field": "s", "type": "nominal", "scale": {"domain": ["r", "m"], "range": ["#5a5a5a", "#262626"]}, "legend": {"title": null, "labelExpr": "datum.label == 'r' ? 'gcn-PLUV' : '11-year running mean'"}},
       "strokeWidth": {"field": "s", "type": "nominal", "scale": {"domain": ["r", "m"], "range": [0.9, 2.8]}, "legend": {"title": null, "labelExpr": "datum.label == 'r' ? 'gcn-PLUV' : '11-year running mean'"}}
     }},
    {"data": {"name": "p3"}, "transform": [{"filter": "datum.s == 'm'"}], "mark": {"type": "line"},
     "encoding": {
       "x": {"field": "x", "type": "quantitative", "scale": {"domain": [1625, 2000], "nice": false, "zero": false}, "axis": {"values": [1625, 1650, 1675, 1700, 1725, 1750, 1775, 1800, 1825, 1850, 1875, 1900, 1925, 1950, 1975, 2000], "format": "d", "title": null, "labelFlush": false, "labelPadding": 1, "labelOverlap": false}},
       "y": {"field": "y", "type": "quantitative", "scale": {"domain": [-3, 3], "nice": false}, "axis": {"values": [-2, -1, 0, 1, 2], "title": null, "labelPadding": 2}},
       "color": {"field": "s", "type": "nominal", "scale": {"domain": ["r", "m"], "range": ["#5a5a5a", "#262626"]}, "legend": {"title": null, "labelExpr": "datum.label == 'r' ? 'gcn-PLUV' : '11-year running mean'"}},
       "strokeWidth": {"field": "s", "type": "nominal", "scale": {"domain": ["r", "m"], "range": [0.9, 2.8]}, "legend": {"title": null, "labelExpr": "datum.label == 'r' ? 'gcn-PLUV' : '11-year running mean'"}}
     }}
  ]
}
]
}
